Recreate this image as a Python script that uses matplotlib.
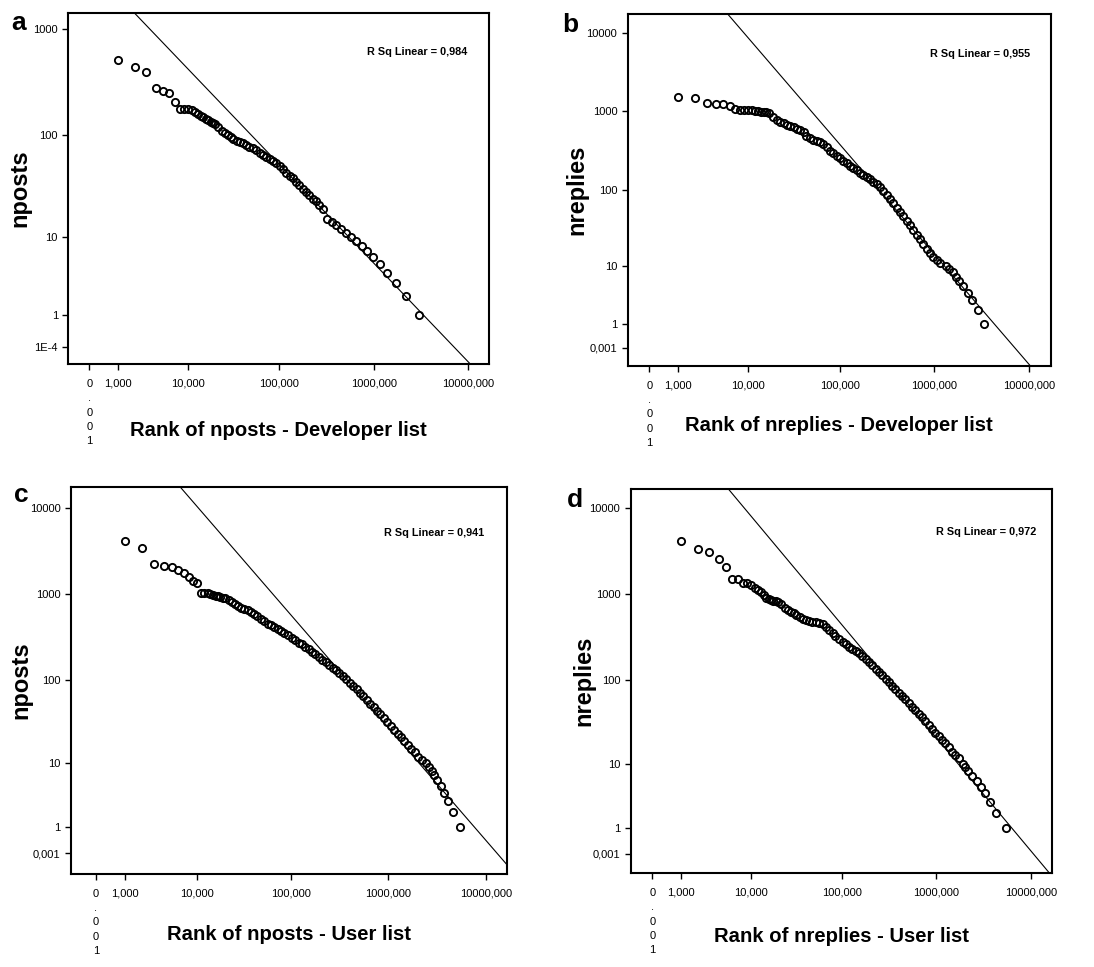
import matplotlib
matplotlib.use("Agg")
import matplotlib.pyplot as plt
import numpy as np

# Rank vs. count for each mailing list (tied counts share their mean rank)
rank_dev_posts = [1, 2, 3, 4, 5, 6, 7, 8, 9, 10,
                  11, 12, 13, 14, 15, 16, 17, 18, 19, 20, 22, 24, 26, 28, 30,
                  32, 35, 38, 41, 44, 48, 52, 57, 62, 67, 73, 79, 85, 93, 101, 109, 119, 129,
                  139, 151, 164, 178, 193, 209, 227, 246, 267, 290,
                  324, 360, 401, 449, 511, 573, 652, 748, 859, 994, 1169, 1396, 1710, 2181, 3040]
nposts_dev = [512, 443, 394, 280, 262, 249, 203, 176, 176, 176,
              172, 165, 157, 152, 146, 141, 137, 133, 129, 126, 119, 109, 103, 99, 95,
              92, 88, 85, 83, 80, 77, 74, 71, 67, 64, 61, 58, 56, 53, 50, 47, 43, 40,
              38, 35, 33, 30, 28, 26, 24, 23, 21, 19,
              15, 14, 13, 12, 11, 10, 9, 8, 7, 6, 5, 4, 3, 2, 1]

rank_dev_replies = [1, 2, 3, 4, 5, 6,
                    7, 8, 9, 10, 11, 12, 13, 14, 15, 16, 17,
                    19, 21, 23, 25, 27, 29, 32, 35, 38, 41, 44, 48, 52, 57, 62, 67, 73, 79, 85, 93,
                    101, 109, 119, 129, 139, 151, 164, 178, 193, 209, 227, 246, 267, 290, 314,
                    341, 369, 400, 434, 471, 511, 554, 600, 651, 706, 765, 829, 899, 975, 1057,
                    1146,
                    1327, 1438, 1559, 1690, 1832, 2018, 2243, 2512, 2858, 3360]
nreplies_dev = [1537, 1493, 1264, 1227, 1227, 1169,
                1060, 1050, 1040, 1040, 1030, 1010, 1000, 990, 981, 970, 940,
                839, 776, 732, 704, 677, 651, 626, 602, 579, 546, 486, 458, 436, 420, 403, 384,
                348, 316, 292, 273, 252, 236, 218, 203, 190, 177, 166, 156, 147, 137, 127, 117,
                108, 96, 86, 76, 67, 59, 52, 46, 40, 35, 30, 26, 23, 20, 17, 15, 13, 12,
                11,
                10, 9, 8, 7, 6, 5, 4, 3, 2, 1]

rank_user_posts = [1, 2, 3, 4, 5, 6, 7, 8, 9, 10,
                   11, 12, 13, 14, 15, 16, 17, 18, 19, 20, 22, 24, 26, 28, 30,
                   32, 35, 38, 41, 44, 48, 52, 57, 62, 67, 73, 79, 85, 93, 101, 109, 119, 129,
                   139, 151, 164, 178, 193, 209, 227, 246, 267, 290, 314, 341, 369, 400, 434,
                   471, 511, 554, 600, 651, 706, 765, 829, 899, 975, 1057, 1146, 1243, 1348,
                   1461, 1584, 1718, 1863, 2020, 2190,
                   2448, 2606, 2774, 2956, 3171, 3430, 3741, 4112, 4627, 5415]
nposts_user = [4113, 3383, 2208, 2133, 2075, 1900, 1770, 1563, 1429, 1331,
               1038, 1029, 1020, 1001, 975, 958, 949, 932, 908, 892, 861, 809, 767, 727, 695,
               677, 647, 619, 587, 557, 518, 483, 454, 434, 415, 393, 373, 354, 332, 312, 291,
               273, 261, 245, 228, 215, 200, 186, 173, 161, 150, 140, 130, 120, 111, 102, 93,
               86, 79, 71, 65, 58, 53, 48, 44, 40, 36, 32, 29, 26, 23, 21, 19, 17, 15, 14, 12,
               11,
               10, 9, 8, 7, 6, 5, 4, 3, 2, 1]

rank_user_replies = [1, 2, 3, 4, 5, 6, 7, 8, 9, 10,
                     11, 12, 13, 14, 15, 16, 17, 18, 19, 20, 22, 24, 26, 28, 30,
                     32, 35, 38, 41, 44, 48, 52, 57, 62, 67, 73, 79, 85, 93, 101, 109, 119,
                     129, 139, 151, 164, 178, 193, 209, 227, 246, 267, 290, 314, 341, 369, 400,
                     434, 471, 511, 554, 600, 651, 706, 765, 829, 899, 975, 1057, 1146, 1243,
                     1348, 1461, 1584, 1718,
                     1897, 2023, 2177, 2399, 2667, 2938, 3266, 3688, 4268, 5396]
nreplies_user = [4121, 3333, 3049, 2528, 2047, 1500, 1500, 1336, 1336, 1278,
                 1180, 1109, 1051, 979, 904, 880, 857, 842, 835, 820, 764, 693, 651, 623, 601,
                 575, 540, 512, 499, 490, 481, 473, 465, 448, 417, 385, 356, 329, 301, 280, 263,
                 247, 232, 220, 207, 194, 179, 164, 150, 137, 125, 115, 105, 95, 87, 79, 72,
                 65, 60, 54, 49, 45, 40, 37, 33, 30, 27, 24, 22, 20, 18,
                 16, 14, 13, 12,
                 10, 9, 8, 7, 6, 5, 4, 3, 2, 1]

# log10(y+1) = intercept + slope * log10(x+1)
fit_dev_posts = (3.602, -0.937)
fit_dev_replies = (5.392, -1.402)
fit_user_posts = (5.370, -1.305)
fit_user_replies = (5.266, -1.308)

r2_labels = ["0,984", "0,955", "0,941", "0,972"]

x_ticks = [0.001, 1, 10, 100, 1000, 10000]
x_ticklabels = ["0\n.\n0\n0\n1", "1,000", "10,000", "100,000", "1000,000", "10000,000"]
y_ticks_a = [0.0001, 1, 10, 100, 1000]
y_ticklabels_a = ["1E-4", "1", "10", "100", "1000"]
y_ticks = [0.001, 1, 10, 100, 1000, 10000]
y_ticklabels = ["0,001", "1", "10", "100", "1000", "10000"]

NARROW = ["Liberation Sans Narrow", "Liberation Sans", "DejaVu Sans"]
BOLD = ["Liberation Sans", "DejaVu Sans"]

W, H = 1094, 967


def fwd(v):
    v = np.asarray(v, dtype=float)
    with np.errstate(invalid="ignore", divide="ignore"):
        return np.log10(v + 1)


def inv(u):
    return 10 ** np.asarray(u, dtype=float) - 1


panels = [
    dict(letter="a", rect=(68.3, 12.7, 489, 364.3), letter_xy=(19, 30),
         x=rank_dev_posts, y=nposts_dev, fit=fit_dev_posts, r2=r2_labels[0],
         xlim=(-0.40, 16500), ylim=(-0.32, 1440),
         yt=y_ticks_a, ytl=y_ticklabels_a, r2_xy=(0.948, 0.888),
         ylabel="nposts", xlabel="Rank of nposts - Developer list", lab_off=(48, 66)),
    dict(letter="b", rect=(627.7, 14, 1050.7, 366), letter_xy=(570, 31.5),
         x=rank_dev_replies, y=nreplies_dev, fit=fit_dev_replies, r2=r2_labels[1],
         xlim=(-0.408, 16790), ylim=(-0.415, 17220),
         yt=y_ticks, ytl=y_ticklabels, r2_xy=(0.951, 0.886),
         ylabel="nreplies", xlabel="Rank of nreplies - Developer list", lab_off=(51, 59)),
    dict(letter="c", rect=(71, 486.7, 507.3, 874), letter_xy=(21, 501.5),
         x=rank_user_posts, y=nposts_user, fit=fit_user_posts, r2=r2_labels[2],
         xlim=(-0.442, 16560), ylim=(-0.423, 17500),
         yt=y_ticks, ytl=y_ticklabels, r2_xy=(0.947, 0.880),
         ylabel="nposts", xlabel="Rank of nposts - User list", lab_off=(50, 61)),
    dict(letter="d", rect=(630.7, 489, 1052.3, 873.3), letter_xy=(575, 506.5),
         x=rank_user_replies, y=nreplies_user, fit=fit_user_replies, r2=r2_labels[3],
         xlim=(-0.410, 16790), ylim=(-0.402, 16440),
         yt=y_ticks, ytl=y_ticklabels, r2_xy=(0.961, 0.887),
         ylabel="nreplies", xlabel="Rank of nreplies - User list", lab_off=(47, 63)),
]

fig = plt.figure(figsize=(W / 100, H / 100), dpi=100)

for p in panels:
    left, top, right, bottom = p["rect"]
    aw, ah = right - left, bottom - top
    ax = fig.add_axes([left / W, 1 - bottom / H, aw / W, ah / H])
    ax.set_xscale("function", functions=(fwd, inv))
    ax.set_yscale("function", functions=(fwd, inv))
    ax.set_xlim(*p["xlim"])
    ax.set_ylim(*p["ylim"])

    # straight regression line in the transformed space
    b0, b1 = p["fit"]
    xf = fwd(np.array(p["xlim"]))
    ax.plot(inv(xf), inv(b0 + b1 * xf), color="black", lw=0.8, zorder=2)

    ax.plot(p["x"], p["y"], "o", ms=5.2, mfc="none", mec="black", mew=1.35,
            ls="none", zorder=3)

    ax.set_xticks(x_ticks)
    ax.set_xticklabels(x_ticklabels, family=NARROW, fontsize=8, linespacing=1.55)
    ax.set_yticks(p["yt"])
    ax.set_yticklabels(p["ytl"], family=NARROW, fontsize=8)
    ax.minorticks_off()
    ax.tick_params(direction="out", length=4.5, width=1, top=False, right=False)
    ax.tick_params(axis="x", pad=6)
    ax.tick_params(axis="y", pad=3)

    for s in ax.spines.values():
        s.set_linewidth(1.5)

    ax.set_xlabel(p["xlabel"], fontsize=14.6, fontweight="bold", family=BOLD)
    ax.xaxis.set_label_coords(0.5, -p["lab_off"][1] / ah)
    ax.xaxis.label.set_va("center")
    ax.set_ylabel(p["ylabel"], fontsize=17, fontweight="bold", family=BOLD)
    ax.yaxis.set_label_coords(-p["lab_off"][0] / aw, 0.5)
    ax.yaxis.label.set_va("center")

    ax.text(p["r2_xy"][0], p["r2_xy"][1], f"R Sq Linear = {p['r2']}",
            transform=ax.transAxes, ha="right", va="center",
            fontsize=7.8, fontweight="bold", family=NARROW)

    fig.text(p["letter_xy"][0] / W, 1 - p["letter_xy"][1] / H, p["letter"],
             fontsize=19, fontweight="bold", family=BOLD, ha="center", va="baseline")

fig.savefig("out.png", dpi=100, facecolor="white")
